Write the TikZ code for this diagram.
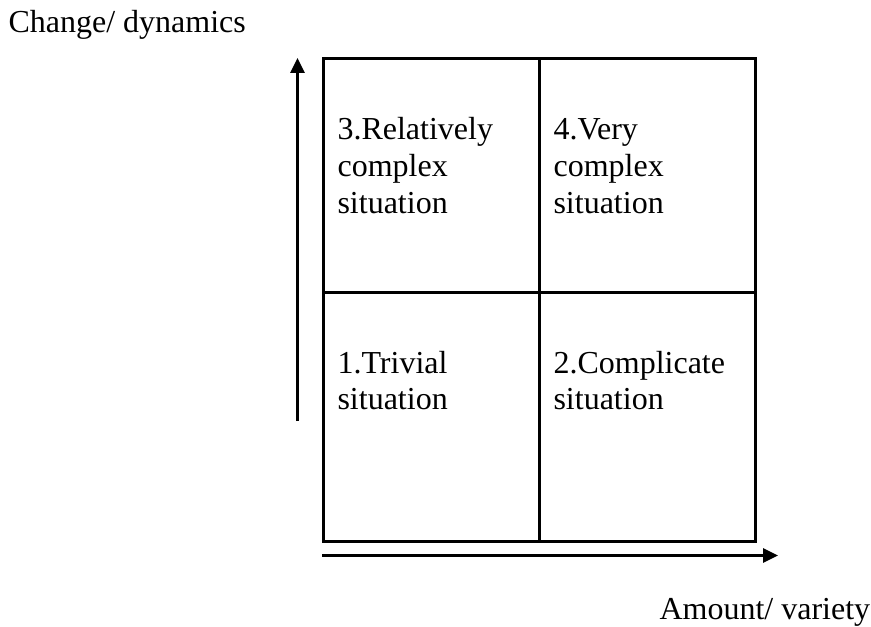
\documentclass[tikz,border=0pt]{standalone}
\usepackage{fontspec}
\setmainfont{Liberation Serif}
\usepackage{tikz}
\usetikzlibrary{arrows.meta}

\begin{document}
\begin{tikzpicture}[x=0.375pt,y=-0.375pt,
	cell/.style={draw,line width=1.1pt,minimum width=81pt,anchor=north west,inner sep=0pt},
	txt/.style={font=\fontsize{12}{13.8}\selectfont,align=left,anchor=base west,inner sep=0pt},
	axis/.style={line width=0.8pt,-{Triangle[length=5.6pt,width=5.3pt]}}]
	\useasboundingbox (0,0) rectangle (871,626);
	% quadrants
	\node[cell,minimum height=87.6pt] (q3) at (322,57) {};
	\node[cell,minimum height=87.6pt] (q4) at (538,57) {};
	\node[cell,minimum height=93.4pt] (q1) at (322,291) {};
	\node[cell,minimum height=93.4pt] (q2) at (538,291) {};
	% base anchor sits on the last line
	\node[txt] (t3) at (337,213.6) {3.Relatively\\complex\\situation};
	\node[txt] (t4) at (553,213.6) {4.Very\\complex\\situation};
	\node[txt] (t1) at (337,409.8) {1.Trivial\\situation};
	\node[txt] (t2) at (553,409.8) {2.Complicate\\situation};
	% axes
	\coordinate (ylow) at (297.5,421);
	\coordinate (yhigh) at (297.5,58);
	\coordinate (xlow) at (322,555.5);
	\coordinate (xhigh) at (778,555.5);
	\draw[axis] (ylow) -- (yhigh);
	\draw[axis] (xlow) -- (xhigh);
	\node[txt] (ylab) at (8,33) {Change/ dynamics};
	\node[txt] (xlab) at (659,619) {Amount/ variety};
\end{tikzpicture}
\end{document}
